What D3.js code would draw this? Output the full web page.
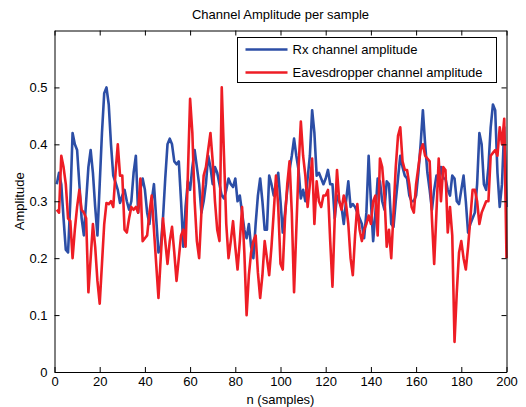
<!DOCTYPE html>
<html>
<head>
<meta charset="utf-8">
<script src="https://cdn.jsdelivr.net/npm/d3@7"></script>
<style>
  body { margin: 0; background: #fff; }
  text { font-family: "Liberation Sans", Arial, sans-serif; fill: #000; }
</style>
</head>
<body>
<script>
var width = 526, height = 407;
var margin = {left: 54.5, right: 19.5, top: 30.5, bottom: 35};

// samples 1..200
var rx = [0.33,0.35,0.33,0.27,0.215,0.21,0.30,0.42,0.40,0.39,
  0.33,0.27,0.24,0.30,0.36,0.39,0.35,0.29,0.24,0.33,
  0.42,0.49,0.50,0.47,0.40,0.345,0.333,0.32,0.297,0.31,
  0.32,0.30,0.285,0.30,0.35,0.38,0.28,0.32,0.34,0.32,
  0.28,0.26,0.30,0.33,0.27,0.21,0.22,0.27,0.34,0.40,
  0.41,0.40,0.37,0.365,0.37,0.30,0.22,0.29,0.335,0.32,
  0.36,0.39,0.36,0.33,0.28,0.30,0.33,0.38,0.36,0.33,
  0.36,0.35,0.33,0.31,0.305,0.32,0.34,0.33,0.325,0.34,
  0.30,0.31,0.28,0.25,0.235,0.26,0.22,0.20,0.26,0.31,
  0.34,0.30,0.25,0.25,0.345,0.33,0.31,0.33,0.35,0.30,
  0.245,0.28,0.32,0.355,0.38,0.41,0.38,0.355,0.305,0.32,
  0.30,0.34,0.38,0.46,0.42,0.345,0.35,0.34,0.33,0.34,
  0.355,0.33,0.33,0.27,0.31,0.30,0.29,0.26,0.30,0.335,
  0.29,0.295,0.29,0.28,0.27,0.26,0.235,0.28,0.38,0.30,
  0.23,0.28,0.34,0.335,0.30,0.285,0.335,0.33,0.26,0.255,
  0.30,0.34,0.38,0.36,0.345,0.34,0.31,0.30,0.30,0.31,
  0.35,0.40,0.46,0.40,0.35,0.32,0.285,0.32,0.345,0.34,
  0.36,0.34,0.34,0.32,0.31,0.345,0.34,0.30,0.295,0.32,
  0.345,0.30,0.245,0.26,0.27,0.28,0.33,0.42,0.40,0.33,
  0.32,0.36,0.43,0.47,0.46,0.35,0.29,0.33,0.43,0.29];

var eve = [0.285,0.28,0.38,0.36,0.33,0.27,0.265,0.20,0.25,0.29,
  0.32,0.285,0.28,0.27,0.14,0.20,0.26,0.22,0.16,0.12,
  0.19,0.26,0.297,0.295,0.30,0.29,0.35,0.40,0.345,0.345,
  0.25,0.245,0.27,0.29,0.285,0.29,0.28,0.34,0.23,0.235,
  0.24,0.28,0.31,0.25,0.19,0.13,0.20,0.27,0.23,0.19,
  0.23,0.255,0.21,0.16,0.20,0.24,0.25,0.22,0.345,0.48,
  0.42,0.30,0.23,0.20,0.28,0.345,0.36,0.39,0.42,0.37,
  0.30,0.25,0.23,0.50,0.38,0.26,0.20,0.23,0.265,0.22,
  0.18,0.23,0.29,0.21,0.10,0.17,0.21,0.23,0.24,0.175,
  0.13,0.17,0.23,0.20,0.17,0.22,0.28,0.345,0.29,0.19,
  0.18,0.27,0.33,0.37,0.28,0.14,0.25,0.36,0.44,0.38,
  0.345,0.29,0.33,0.375,0.26,0.335,0.30,0.29,0.31,0.31,
  0.32,0.23,0.15,0.27,0.355,0.30,0.285,0.31,0.295,0.26,
  0.20,0.17,0.24,0.295,0.25,0.23,0.25,0.26,0.275,0.26,
  0.30,0.31,0.24,0.375,0.36,0.31,0.22,0.25,0.20,0.28,
  0.36,0.415,0.43,0.37,0.355,0.355,0.33,0.29,0.28,0.33,
  0.36,0.39,0.40,0.38,0.375,0.37,0.27,0.19,0.28,0.375,
  0.30,0.36,0.355,0.245,0.29,0.24,0.053,0.14,0.21,0.23,
  0.20,0.18,0.22,0.27,0.32,0.32,0.30,0.26,0.28,0.29,
  0.30,0.30,0.38,0.385,0.39,0.38,0.43,0.40,0.445,0.20];

var xTicks = [0, 20, 40, 60, 80, 100, 120, 140, 160, 180, 200];
var yTicks = [0, 0.1, 0.2, 0.3, 0.4, 0.5];
var seriesNames = ["Rx channel amplitude", "Eavesdropper channel amplitude"];
var seriesColors = ["#2c4ea6", "#ee1d25"];

var svg = d3.select("body").append("svg")
  .attr("width", width)
  .attr("height", height);

var x = d3.scaleLinear().domain([0, 200]).range([margin.left, width - margin.right]);
var y = d3.scaleLinear().domain([0, 0.6]).range([height - margin.bottom, margin.top]);

var line = d3.line()
  .x((d, i) => x(i + 1))
  .y(d => y(d));

[rx, eve].forEach(function(s, k) {
  svg.append("path")
    .datum(s)
    .attr("fill", "none")
    .attr("stroke", seriesColors[k])
    .attr("stroke-width", 2.6)
    .attr("stroke-linejoin", "round")
    .attr("d", line);
});

// axes (inward ticks, box)
var fs = "13px";
svg.append("g")
  .attr("transform", "translate(0," + y(0) + ")")
  .call(d3.axisBottom(x).tickValues(xTicks).tickSizeInner(-5).tickSizeOuter(0).tickPadding(5))
  .call(g => g.selectAll("text").style("font-size", fs));
svg.append("g")
  .attr("transform", "translate(0," + y(0.6) + ")")
  .call(d3.axisTop(x).tickValues(xTicks).tickSizeInner(-5).tickSizeOuter(0).tickFormat(""));
svg.append("g")
  .attr("transform", "translate(" + x(0) + ",0)")
  .call(d3.axisLeft(y).tickValues(yTicks).tickSizeInner(-5).tickSizeOuter(0).tickPadding(7).tickFormat(d3.format("")))
  .call(g => g.selectAll("text").style("font-size", fs));
svg.append("g")
  .attr("transform", "translate(" + x(200) + ",0)")
  .call(d3.axisRight(y).tickValues(yTicks).tickSizeInner(-5).tickSizeOuter(0).tickFormat(""));
svg.selectAll(".domain").attr("stroke", "#000").attr("stroke-width", 1);
svg.selectAll(".tick line").attr("stroke", "#000");
svg.selectAll("g").attr("font-family", null).attr("font-size", null);

// labels
svg.append("text")
  .attr("x", (x(0) + x(200)) / 2).attr("y", 19)
  .attr("text-anchor", "middle").style("font-size", fs)
  .text("Channel Amplitude per sample");
svg.append("text")
  .attr("x", (x(0) + x(200)) / 2).attr("y", 404)
  .attr("text-anchor", "middle").style("font-size", fs)
  .text("n (samples)");
svg.append("text")
  .attr("transform", "translate(24," + (y(0.3)) + ") rotate(-90)")
  .attr("text-anchor", "middle").style("font-size", fs)
  .text("Amplitude");

// legend
var lg = svg.append("g").attr("transform", "translate(237.5,37.5)");
lg.append("rect")
  .attr("width", 259).attr("height", 45)
  .attr("fill", "#fff").attr("stroke", "#000").attr("stroke-width", 1);
seriesNames.forEach(function(name, k) {
  var yy = 12 + k * 23;
  lg.append("line")
    .attr("x1", 8).attr("x2", 50).attr("y1", yy).attr("y2", yy)
    .attr("stroke", seriesColors[k]).attr("stroke-width", 2.6);
  lg.append("text")
    .attr("x", 55).attr("y", yy + 4.5)
    .style("font-size", fs)
    .text(name);
});
</script>
</body>
</html>
